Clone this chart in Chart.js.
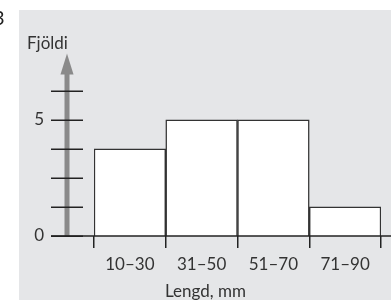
<!DOCTYPE html>
<html><head><meta charset="utf-8">
<script src="https://cdn.jsdelivr.net/npm/chart.js@4.4.0/dist/chart.umd.min.js"></script>
<style>html,body{margin:0;padding:0;background:#fff;}#wrap{width:391px;height:300px;position:relative;}</style>
</head><body><div id="wrap"><canvas id="c" width="391" height="300"></canvas></div>
<script>
const categories = ["10–30", "31–50", "51–70", "71–90"];
const counts = [3.75, 5, 5, 1.25];
const yTickValues = [0, 1.25, 2.5, 3.75, 5, 6.25];
const yTickLabels = {0: "0", 5: "5"};
const yTitle = "Fjöldi";
const xTitle = "Lengd, mm";
const FONT = "Lato, 'Open Sans', sans-serif";

const decor = {
  id: 'decor',
  beforeDraw(chart) {
    const ctx = chart.ctx;
    ctx.save();
    ctx.fillStyle = '#e5e6e8';
    ctx.fillRect(19, 10, 372, 290);
    ctx.fillStyle = '#222';
    ctx.font = "20px " + FONT;
    ctx.textBaseline = 'middle';
    ctx.fillText('3', -7, 19);
    ctx.restore();
  },
  afterDraw(chart) {
    const ctx = chart.ctx, y = chart.scales.y, x = chart.scales.x;
    const ax = 67;
    ctx.save();
    ctx.strokeStyle = '#8a8a8a';
    ctx.lineWidth = 5;
    ctx.beginPath();
    ctx.moveTo(ax, y.getPixelForValue(0));
    ctx.lineTo(ax, y.getPixelForValue(7.0));
    ctx.stroke();
    ctx.fillStyle = '#8a8a8a';
    ctx.beginPath();
    ctx.moveTo(ax, y.getPixelForValue(7.85));
    ctx.lineTo(ax - 6.5, y.getPixelForValue(6.95));
    ctx.lineTo(ax + 6.5, y.getPixelForValue(6.95));
    ctx.closePath();
    ctx.fill();
    ctx.strokeStyle = '#222';
    ctx.lineWidth = 1.5;
    yTickValues.forEach(v => {
      const py = Math.round(y.getPixelForValue(v)) + 0.25;
      ctx.beginPath();
      ctx.moveTo(51, py);
      ctx.lineTo(83, py);
      ctx.stroke();
    });
    const by = y.getPixelForValue(0);
    ctx.beginPath();
    ctx.moveTo(51, by);
    ctx.lineTo(391, by);
    ctx.stroke();
    ctx.fillStyle = '#333';
    ctx.font = "17px " + FONT;
    ctx.textAlign = 'right';
    ctx.textBaseline = 'middle';
    Object.keys(yTickLabels).forEach(k => {
      ctx.fillText(yTickLabels[k], 44, y.getPixelForValue(+k));
    });
    ctx.textAlign = 'left';
    ctx.fillText(yTitle, 27, 44);
    ctx.textAlign = 'center';
    categories.forEach((c, i) => {
      ctx.fillText(c, x.getPixelForValue(i), by + 29);
    });
    ctx.fillText(xTitle, (x.left + x.right) / 2 - 32, by + 56);
    ctx.restore();
  }
};

new Chart(document.getElementById('c'), {
  type: 'bar',
  data: {
    labels: categories,
    datasets: [{
      data: counts,
      backgroundColor: '#ffffff',
      borderColor: '#333333',
      borderWidth: 1.5,
      barPercentage: 1,
      categoryPercentage: 1
    }]
  },
  options: {
    responsive: false,
    animation: false,
    events: [],
    layout: { padding: { left: 94, right: 10, top: 50, bottom: 52 } },
    plugins: { legend: { display: false }, tooltip: { enabled: false } },
    scales: {
      x: {
        offset: true,
        grid: { offset: true, drawOnChartArea: false, color: '#222', lineWidth: 1.5, tickLength: 12, tickColor: '#222' },
        border: { display: false },
        ticks: { display: false, padding: 0 },
        title: { display: false }
      },
      y: {
        display: false,
        min: 0,
        max: 8
      }
    }
  },
  plugins: [decor]
});
</script>
</body></html>
